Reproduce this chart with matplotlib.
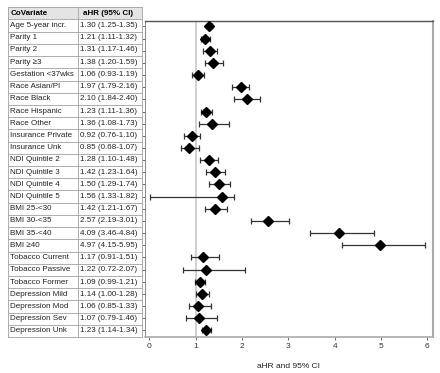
import matplotlib.pyplot as plt
from matplotlib.patches import Rectangle

plt.rcParams['font.family'] = ['Liberation Sans', 'DejaVu Sans']

# Data
covariates = ["Age 5-year incr.", "Parity 1", "Parity 2", "Parity \u22653", "Gestation <37wks",
              "Race Asian/PI", "Race Black", "Race Hispanic", "Race Other",
              "Insurance Private", "Insurance Unk",
              "NDI Quintile 2", "NDI Quintile 3", "NDI Quintile 4", "NDI Quintile 5",
              "BMI 25-<30", "BMI 30-<35", "BMI 35-<40", "BMI \u226540",
              "Tobacco Current", "Tobacco Passive", "Tobacco Former",
              "Depression Mild", "Depression Mod", "Depression Sev", "Depression Unk"]
ahr = [1.30, 1.21, 1.31, 1.38, 1.06, 1.97, 2.10, 1.23, 1.36, 0.92, 0.85,
       1.28, 1.42, 1.50, 1.56, 1.42, 2.57, 4.09, 4.97, 1.17, 1.22, 1.09,
       1.14, 1.06, 1.07, 1.23]
ci_low = [1.25, 1.11, 1.17, 1.20, 0.93, 1.79, 1.84, 1.11, 1.08, 0.76, 0.68,
          1.10, 1.23, 1.29, 1.33, 1.21, 2.19, 3.46, 4.15, 0.91, 0.72, 0.99,
          1.00, 0.85, 0.79, 1.14]
ci_high = [1.35, 1.32, 1.46, 1.59, 1.19, 2.16, 2.40, 1.36, 1.73, 1.10, 1.07,
           1.48, 1.64, 1.74, 1.82, 1.67, 3.01, 4.84, 5.95, 1.51, 2.07, 1.21,
           1.28, 1.33, 1.46, 1.34]
# the plotted bar for NDI Quintile 5 starts near 0 in the original figure
drawn_low = list(ci_low)
drawn_low[14] = 0.02

ci_text = [f"{h:.2f} ({l:.2f}-{u:.2f})" for h, l, u in zip(ahr, ci_low, ci_high)]

W, H = 440, 373
fig = plt.figure(figsize=(W / 100, H / 100), dpi=100)

def box(x0, y0, x1, y1):
    # pixel coords (top-left origin) -> figure fraction
    return [x0 / W, 1 - y1 / H, (x1 - x0) / W, (y1 - y0) / H]

n = len(covariates)
rows = list(range(n))

# Forest plot
ax = fig.add_axes(box(145, 21, 432.5, 337))
ax.axvline(1, color='#c8c8c8', lw=1.2, zorder=1)
err_lo = [h - l for h, l in zip(ahr, drawn_low)]
err_hi = [u - h for h, u in zip(ahr, ci_high)]
ax.errorbar(ahr, rows, xerr=[err_lo, err_hi], fmt='none', ecolor='#333333',
            elinewidth=0.9, capsize=2.2, capthick=0.9, zorder=2)
ax.plot(ahr, rows, 'D', color='black', markersize=4.8, zorder=3)
ax.set_xlim(-0.09, 6.11)
ax.set_ylim(n - 0.45, -0.45)
ax.set_xticks(range(7))
ax.set_yticks(rows)
ax.set_yticklabels([])
ax.tick_params(axis='both', length=2.5, width=0.6, color='#555555', labelsize=6,
               labelcolor='#333333', pad=2)
ax.set_xlabel("aHR and 95% CI", fontsize=6, labelpad=9, color='#222222')
ax.spines['top'].set_color('#555555')
ax.spines['top'].set_linewidth(1.0)
ax.spines['left'].set_color('#777777')
ax.spines['left'].set_linewidth(0.6)
ax.spines['right'].set_color('#aaaaaa')
ax.spines['right'].set_linewidth(1.5)
ax.spines['bottom'].set_color('#aaaaaa')
ax.spines['bottom'].set_linewidth(1.2)

# Table on the left
tx = fig.add_axes(box(8, 7, 142, 337))
tx.set_xlim(0, 1)
head = 1.02
tx.set_ylim(n, -head)
tx.axis('off')
split = 0.52
grid = '#a0a0a0'
tx.add_patch(Rectangle((0, -head), 1, head, facecolor='#e4e4e4', edgecolor='none'))
for y in [-head] + rows + [n]:
    tx.plot([0, 1], [y, y], color=grid, lw=0.6, clip_on=False)
for x in [0, split, 1]:
    tx.plot([x, x], [-head, n], color=grid, lw=0.6, clip_on=False)
fs = 5.8
tx.text(0.02, -head / 2, "CoVariate", fontsize=fs, fontweight='bold', va='center', ha='left')
tx.text(split + 0.04, -head / 2, "aHR (95% CI)", fontsize=fs, fontweight='bold', va='center', ha='left')
for i, (name, txt) in enumerate(zip(covariates, ci_text)):
    tx.text(0.012, i + 0.5, name, fontsize=fs, va='center', ha='left', color='#222222')
    tx.text(split + 0.02, i + 0.5, txt, fontsize=fs, va='center', ha='left', color='#222222')

fig.savefig("out.png", dpi=100)
